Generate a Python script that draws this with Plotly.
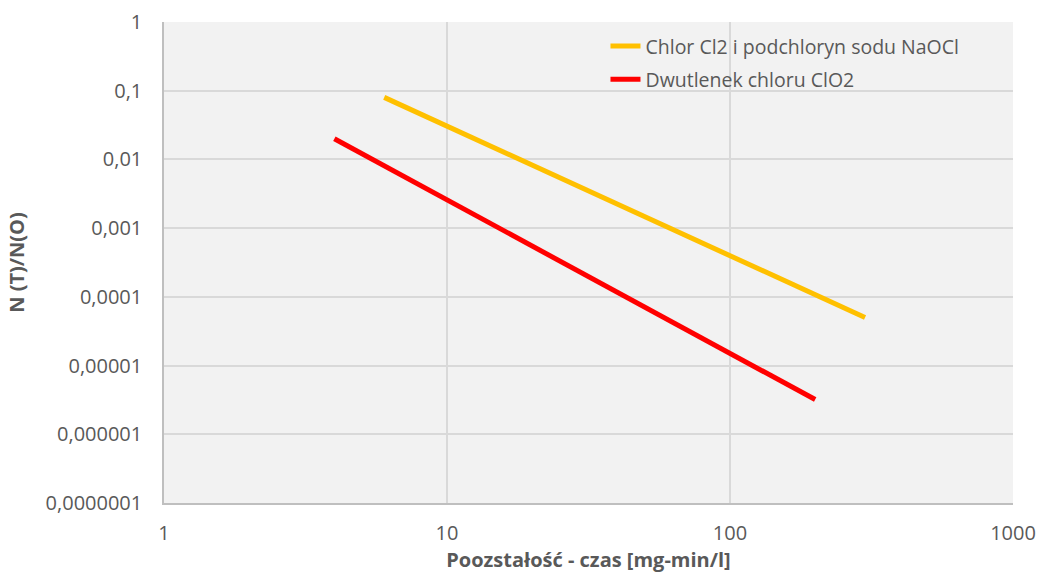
import plotly.graph_objects as go

# Data
names = ["Chlor Cl2 i podchloryn sodu NaOCl", "Dwutlenek chloru ClO2"]
colors = ["#FFC000", "#FF0000"]
x_cl2 = [6, 300]
y_cl2 = [0.08, 0.00005]
x_clo2 = [4, 200]
y_clo2 = [0.02, 0.0000032]

x_ticks = [1, 10, 100, 1000]
x_labels = ["1", "10", "100", "1000"]
y_ticks = [1, 0.1, 0.01, 0.001, 0.0001, 0.00001, 0.000001, 0.0000001]
y_labels = ["1", "0,1", "0,01", "0,001", "0,0001", "0,00001", "0,000001", "0,0000001"]

fig = go.Figure()
for i, (xs, ys) in enumerate([(x_cl2, y_cl2), (x_clo2, y_clo2)]):
    fig.add_trace(go.Scatter(x=xs, y=ys, mode="lines", name=names[i],
                             legendgroup=f"g{i}",
                             line=dict(color=colors[i], width=5)))

font_family = "Open Sans, Noto Sans, sans-serif"
fig.update_layout(
    width=1039, height=573,
    margin=dict(l=164, r=26, t=22, b=70),
    paper_bgcolor="white",
    plot_bgcolor="#f2f2f2",
    font=dict(family=font_family, size=20, color="#595959"),
    showlegend=True,
    legend=dict(x=0.52, y=0.99, xanchor="left", yanchor="top",
                bgcolor="rgba(0,0,0,0)", font=dict(size=19.5, color="#595959"),
                traceorder="grouped", tracegroupgap=5),
)
fig.update_xaxes(type="log", range=[0, 3], tickvals=x_ticks, ticktext=x_labels,
                 automargin=False,
                 showgrid=True, gridcolor="#d9d9d9", gridwidth=1.5,
                 showline=True, linecolor="#bfbfbf", linewidth=1.5,
                 ticks="", ticklabelstandoff=11, zeroline=False,
                 title=dict(text="<b>Poozstałość - czas [mg-min/l]</b>",
                            font=dict(size=20, color="#595959"), standoff=7))
fig.update_yaxes(type="log", range=[-7, 0], tickvals=y_ticks, ticktext=y_labels,
                 automargin=False,
                 showgrid=True, gridcolor="#d9d9d9", gridwidth=1.5,
                 showline=True, linecolor="#bfbfbf", linewidth=1.5,
                 ticks="", ticklabelstandoff=16, zeroline=False,
                 title=dict(text="<b>N (T)/N(O)</b>",
                            font=dict(size=20, color="#595959"), standoff=16))

fig.write_html("out.html",
               config={"displayModeBar": False},
               post_script="document.body.style.margin='0';document.body.style.overflow='hidden';")
